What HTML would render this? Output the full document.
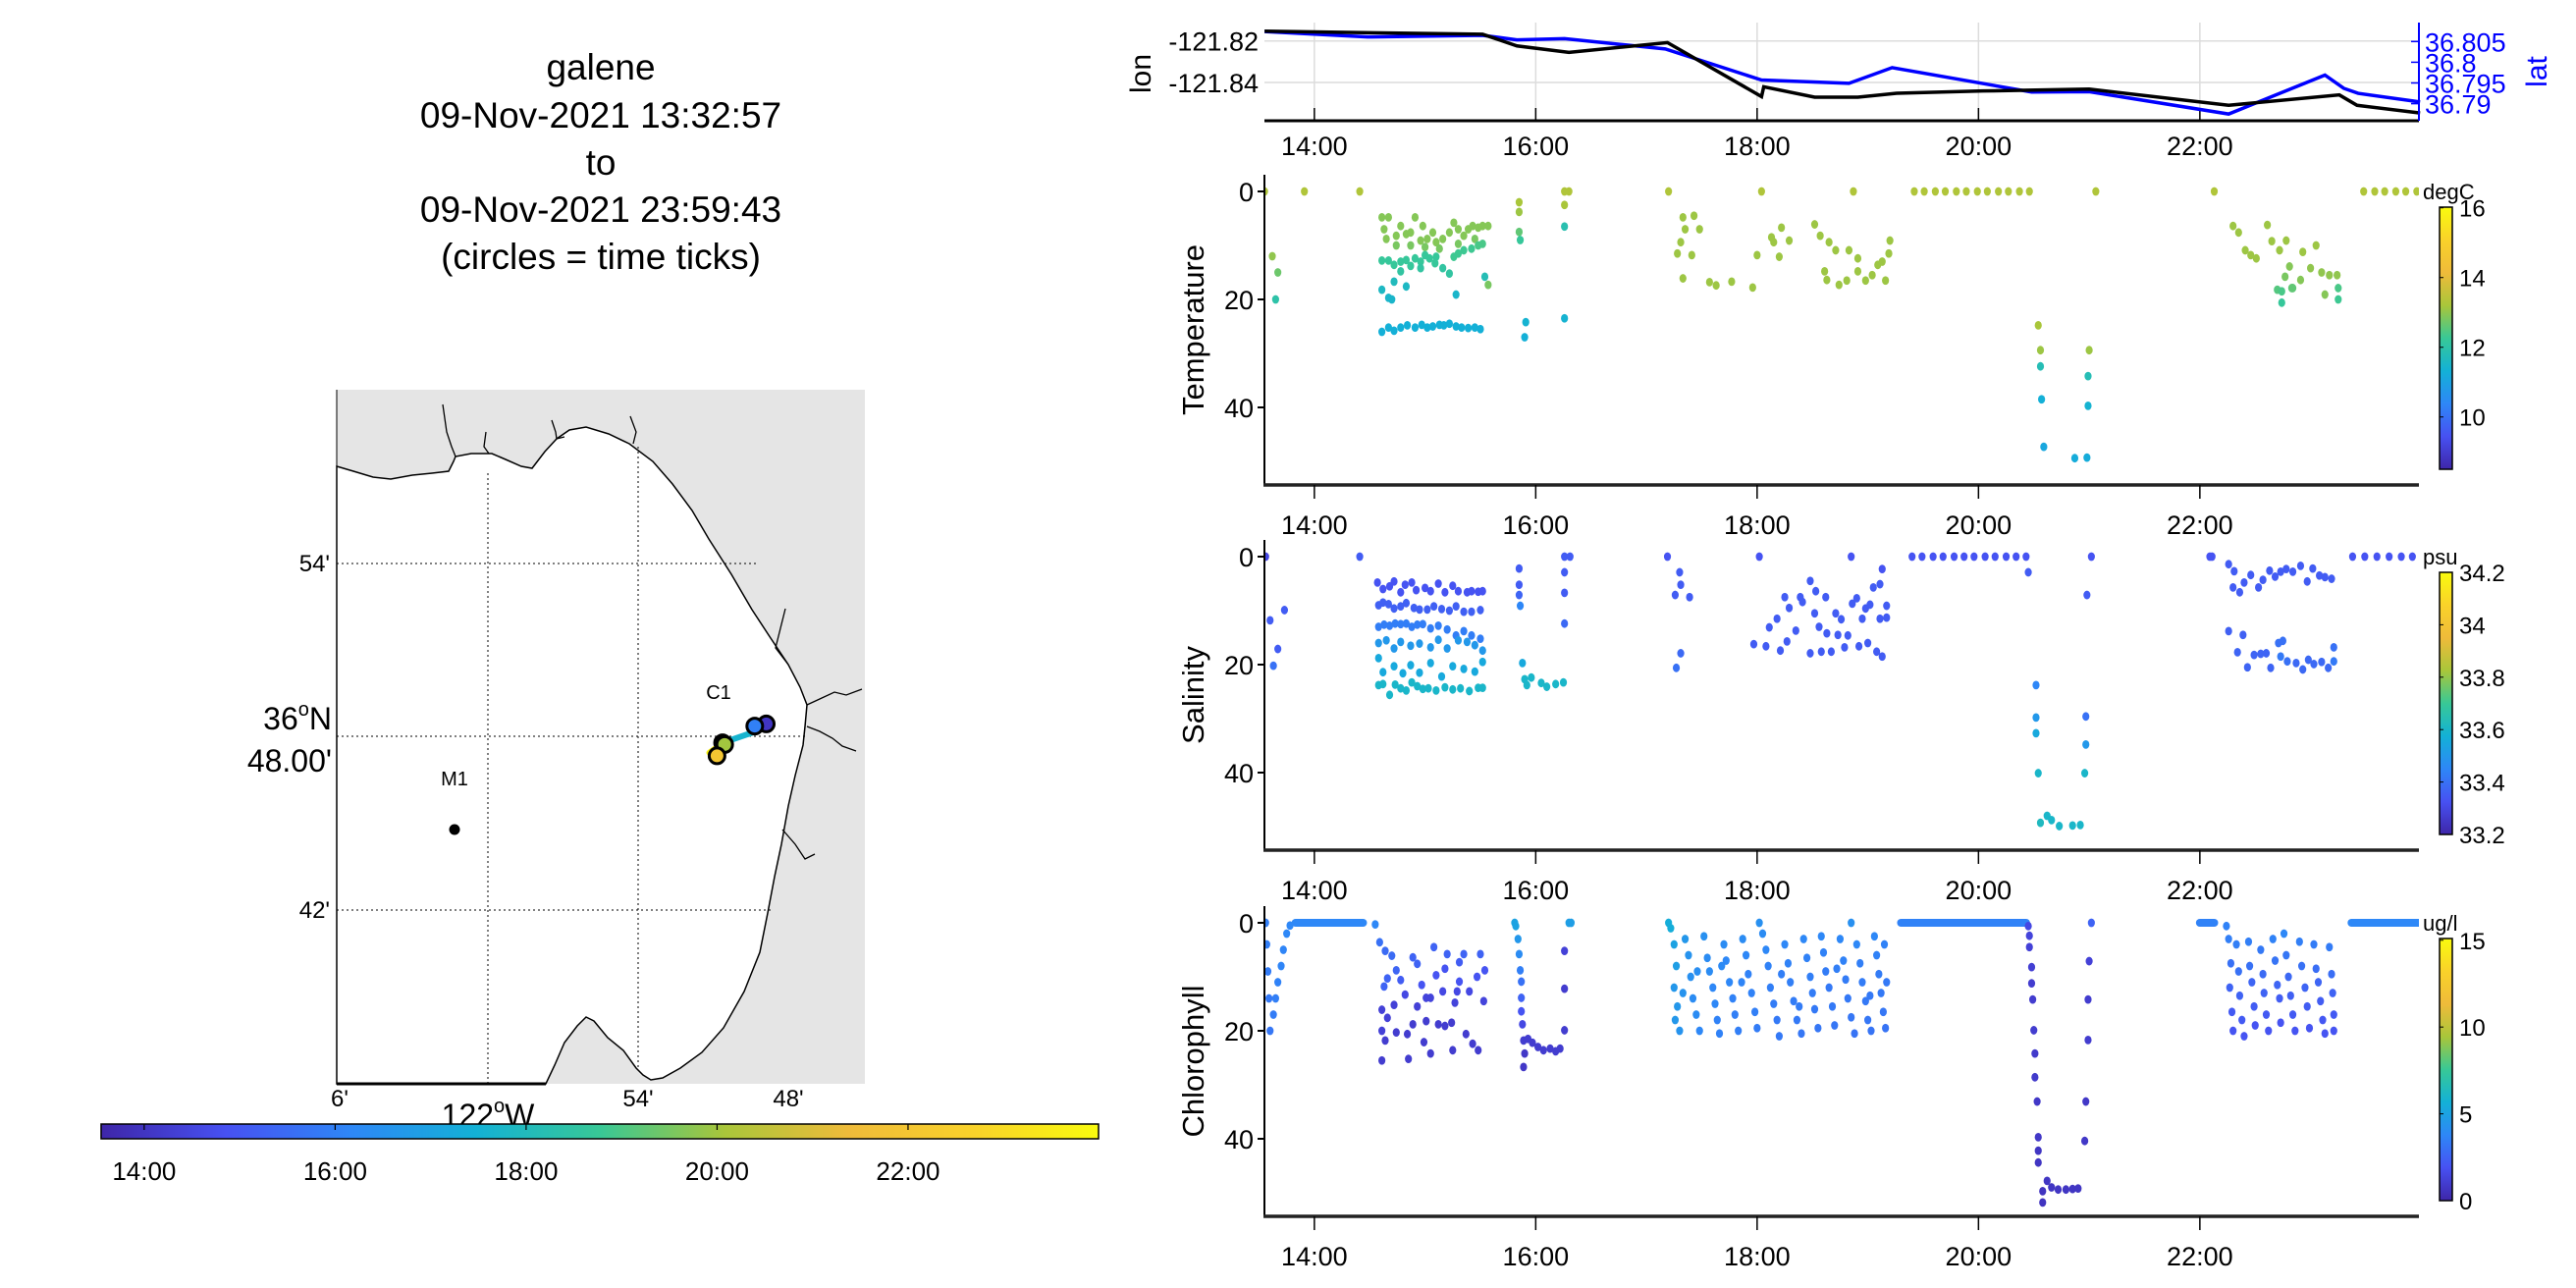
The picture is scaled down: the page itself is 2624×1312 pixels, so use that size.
<!DOCTYPE html>
<html><head><meta charset="utf-8"><style>
html,body{margin:0;padding:0;background:#fff;}
svg{display:block;font-family:"Liberation Sans",sans-serif;}
</style></head><body>
<svg id="fig" width="2624" height="1312" viewBox="0 0 2624 1312" xmlns="http://www.w3.org/2000/svg">
<rect width="2624" height="1312" fill="#fff"/>
<g font-size="37" text-anchor="middle" fill="#000">
<text x="612" y="81">galene</text>
<text x="612" y="130">09-Nov-2021 13:32:57</text>
<text x="612" y="178">to</text>
<text x="612" y="226">09-Nov-2021 23:59:43</text>
<text x="612" y="274">(circles = time ticks)</text>
</g>
<g>
<rect x="343" y="397" width="538" height="707" fill="#e5e5e5"/>
<path fill="#fff" stroke="#000" stroke-width="1.5" d="M343,475 L360,480 L380,486 L398,488 L420,484 L440,482 L457,480 L462,470 L464,465 L480,462 L501,462 L515,468 L531,475 L542,477 L555,460 L567,447 L580,438 L597,435 L620,442 L641,452 L665,470 L685,493 L705,520 L722,549 L745,585 L766,621 L785,650 L803,677 L815,700 L822,718 L820,740 L818,759 L810,790 L803,821 L796,860 L789,893 L782,930 L774,970 L758,1010 L737,1047 L715,1072 L693,1088 L675,1098 L663,1100 L655,1095 L648,1088 L635,1070 L619,1057 L605,1040 L597,1036 L588,1045 L575,1062 L565,1085 L556,1104 L343,1104 Z"/>
<g stroke="#000" stroke-width="1.3" fill="none">
<path d="M451,412 L455,440 L460,455 L464,465"/>
<path d="M495,440 L493,455 L498,462"/>
<path d="M562,428 L566,440 L567,447 L575,445"/>
<path d="M642,424 L648,440 L645,452"/>
<path d="M800,620 L795,640 L790,660 L803,677"/>
<path d="M822,718 L835,712 L850,705 L862,708 L878,702"/>
<path d="M822,740 L835,745 L848,752 L858,760 L872,765"/>
<path d="M797,845 L810,860 L820,875 L830,870"/>
</g>
<g stroke="#000" stroke-width="1" stroke-dasharray="2,3">
<line x1="343" y1="574" x2="770" y2="574"/>
<line x1="343" y1="750" x2="820" y2="750"/>
<line x1="343" y1="927" x2="785" y2="927"/>
<line x1="497" y1="482" x2="497" y2="1104"/>
<line x1="650" y1="455" x2="650" y2="1090"/>
</g>
<line x1="343" y1="1104" x2="556" y2="1104" stroke="#000" stroke-width="3"/>
<line x1="343" y1="397" x2="343" y2="1104" stroke="#000" stroke-width="1"/>
<g font-size="24" fill="#000" text-anchor="end">
<text x="336" y="582">54'</text>
<text x="336" y="935">42'</text>
</g>
<g font-size="32" fill="#000" text-anchor="end">
<text x="338" y="743">36<tspan font-size="20" dy="-14">o</tspan><tspan dy="14">N</tspan></text>
<text x="338" y="786">48.00'</text>
</g>
<g font-size="24" fill="#000" text-anchor="middle">
<text x="346" y="1127">6'</text>
<text x="650" y="1127">54'</text>
<text x="803" y="1127">48'</text>
</g>
<text x="497" y="1147" font-size="32" text-anchor="middle">122<tspan font-size="20" dy="-14">o</tspan><tspan dy="14">W</tspan></text>
<text x="732" y="712" font-size="20" text-anchor="middle">C1</text>
<text x="463" y="800" font-size="20" text-anchor="middle">M1</text>
<circle cx="463" cy="845" r="5.5" fill="#000"/>
<g id="track"></g>
</g>
<g id="hcb"></g>
<g id="toppanel"></g>
<g id="panels"></g>
</svg>
<script>
const NS="http://www.w3.org/2000/svg";
const T0=13.549,T1=23.995;
const timeTicks=[14,16,18,20,22];
const timeTickLabels=["14:00","16:00","18:00","20:00","22:00"];
// lon/lat series
const lonTimes=[13.55,15.52,15.61,15.83,16.30,17.19,18.04,18.06,18.52,18.91,19.26,20.04,21.00,22.26,23.26,23.42,23.99];
const lonValues=[-121.8153,-121.8168,-121.8184,-121.8224,-121.8255,-121.8208,-121.8468,-121.8421,-121.8471,-121.8471,-121.8452,-121.8441,-121.8432,-121.8510,-121.8460,-121.8510,-121.8547];
const latTimes=[13.55,14.48,15.52,15.83,16.26,17.17,18.04,18.83,19.22,20.48,21.00,22.26,23.13,23.30,23.43,23.99];
const latValues=[36.8074,36.8061,36.8065,36.8054,36.8057,36.8032,36.7957,36.7949,36.7987,36.7928,36.7929,36.7875,36.7969,36.7937,36.7925,36.7904];
const lonTicks=[-121.82,-121.84];
const latTicks=[36.805,36.8,36.795,36.79];
const latTickLabels=["36.805","36.8","36.795","36.79"];
// temperature observations [time h, depth m, degC]
const tempObs=[
[13.55,0,13.3],[13.91,0,13.3],[14.41,0,13.3],[16.30,0,13.3],[16.26,0,13.3],[17.20,0,13.3],[18.04,0,13.3],[18.87,0,13.3],
[19.42,0,13.3],[19.51,0,13.3],[19.61,0,13.3],[19.70,0,13.3],[19.80,0,13.3],[19.89,0,13.3],[19.99,0,13.3],[20.08,0,13.3],[20.18,0,13.3],[20.27,0,13.3],[20.37,0,13.3],[20.46,0,13.3],
[21.06,0,13.3],[22.13,0,13.3],[23.48,0,13.3],[23.58,0,13.3],[23.67,0,13.3],[23.77,0,13.3],[23.86,0,13.3],[23.96,0,13.3],
[13.62,12,13.0],[13.67,15,12.7],[13.65,20,12.0],
[14.61,4.8,12.9],[14.67,4.8,12.9],[14.63,7,12.9],[14.65,8.8,12.9],[14.74,8.2,12.9],[14.78,6.4,12.9],[14.83,7.9,12.9],[14.87,7.6,12.9],[14.91,4.8,12.9],[14.96,9.1,12.9],[14.98,6.4,12.9],[15.02,8.8,12.9],[15.07,7.6,12.9],[15.10,9.4,12.9],[15.16,8.8,12.9],[15.22,7.6,12.9],[15.26,5.8,12.9],[15.30,7,12.9],[15.35,8.2,12.9],[15.39,7,12.9],[15.43,6.4,12.9],[15.48,6.7,12.9],[15.52,6.4,12.9],[15.57,6.4,12.9],[14.74,10,12.8],[14.87,10,12.8],[15.00,10.3,12.8],[15.13,10.6,12.8],[15.30,9.7,12.8],[15.45,8.8,12.8],
[14.61,12.8,12.2],[14.67,12.8,12.2],[14.72,13.6,12.2],[14.78,13,12.2],[14.83,12.7,12.2],[14.87,13.8,12.2],[14.91,12.4,12.2],[14.96,13,12.2],[15.00,11.8,12.2],[15.04,12.4,12.2],[15.09,13.3,12.2],[15.16,14.2,12.1],[15.22,15.2,12.1],[15.26,12.1,12.3],[15.30,11.5,12.3],[15.35,10.9,12.3],[15.42,10.6,12.3],[15.48,10,12.4],[15.52,9.7,12.4],[14.78,14.8,12.1],[14.96,14.2,12.1],[15.10,12.1,12.2],
[14.61,18.2,11.6],[14.67,19.7,11.5],[14.70,20,11.5],[14.72,16.7,11.7],[14.83,17.6,11.6],[15.28,19.1,11.5],[15.54,15.8,11.8],[15.57,17.3,12.8],
[14.61,26,11.3],[14.67,25.2,11.3],[14.72,25.8,11.3],[14.78,25.2,11.3],[14.84,24.8,11.3],[14.91,25.2,11.3],[14.97,24.7,11.3],[15.02,25.2,11.3],[15.07,25,11.3],[15.13,24.7,11.3],[15.17,24.8,11.3],[15.22,24.5,11.3],[15.28,25,11.3],[15.33,25.2,11.3],[15.39,25.3,11.3],[15.45,25.2,11.3],[15.50,25.5,11.3],
[15.85,2,13.2],[15.85,3.8,13.1],[15.85,7.5,12.6],[15.86,9,12.2],[15.91,24.2,11.4],[15.90,27,11.3],[16.26,2.5,13.2],[16.26,6.5,11.9],[16.26,23.5,11.4],
[17.33,4.8,13.1],[17.43,4.5,13.1],[17.35,7,13.1],[17.48,7,13.1],[17.31,9.4,13.1],[17.28,11.5,13.1],[17.41,11.8,13.1],[17.33,16.1,13.1],[17.57,16.8,13.1],[17.63,17.4,13.1],[17.77,16.7,13.1],[17.96,17.8,13.1],[18.00,11.8,13.1],[18.13,8.5,13.1],[18.22,6.7,13.1],[18.15,9.4,13.1],[18.29,9.1,13.1],[18.20,12.1,13.1],[18.52,6.1,13.1],[18.57,8.2,13.1],[18.65,9.4,13.1],[18.71,10.9,13.1],[18.83,10.9,13.1],[18.91,12.4,13.1],[18.61,14.8,13.1],[18.63,16.4,13.1],[18.74,17.3,13.1],[18.81,16.5,13.1],[18.98,16.5,13.1],[19.04,15.5,13.1],[19.09,13.6,13.1],[19.13,13,13.1],[19.19,11.5,13.1],[19.20,9.1,13.1],[19.16,16.5,13.1],[18.91,14.8,13.1],
[20.54,24.8,13.2],[20.56,29.4,13.1],[20.56,32.4,11.8],[20.57,38.5,11.3],[20.59,47.3,11.1],[20.87,49.4,11.2],[20.98,49.3,11.2],[21.00,29.4,13.1],[20.99,34.2,11.8],[20.99,39.7,11.4],
[22.30,6.4,13.1],[22.35,7.6,13.1],[22.61,6.2,13.1],[22.41,10.9,13.1],[22.46,11.8,13.1],[22.51,12.4,13.1],[22.65,9.2,13.1],[22.72,10.9,13.1],[22.78,9.1,13.1],[22.81,13.9,12.9],[22.93,11.2,13.1],[23.05,10,13.1],[23.00,14.2,13.0],[23.10,15,13.0],[23.17,15.5,13.0],[23.24,15.5,13.0],[22.91,16.4,12.9],[22.77,15.8,12.8],[22.84,17.9,12.6],[22.70,18.2,12.5],[22.74,18.5,12.4],[22.83,17.9,12.6],[22.74,20.6,12.2],[23.13,19.1,12.9],[23.25,17.9,12.4],[23.25,20,12.3]
];
// salinity observations [time h, depth m, psu]
const salObs=[
[13.56,0,33.3],[14.41,0,33.35],[13.60,11.8,33.35],[13.73,9.9,33.35],[13.67,17.1,33.35],[13.63,20.2,33.4],
[14.57,4.8,33.33],[14.62,6,33.33],[14.68,5.5,33.33],[14.72,4.6,33.33],[14.78,6.6,33.33],[14.82,5.2,33.33],[14.88,4.8,33.33],[14.92,6.2,33.33],[15.00,5.8,33.33],[15.05,6.4,33.33],[15.12,5,33.33],[15.18,6.6,33.33],[15.25,5.4,33.33],[15.30,6.4,33.33],[15.38,6.6,33.33],[15.42,6.4,33.33],[15.48,6.5,33.33],[15.52,6.4,33.33],
[14.58,9,33.36],[14.62,8.5,33.36],[14.67,8.8,33.36],[14.72,9.6,33.36],[14.78,9.2,33.36],[14.83,8.6,33.36],[14.90,9.5,33.36],[14.95,9.8,33.36],[15.02,9.8,33.36],[15.08,9.2,33.36],[15.15,9.7,33.36],[15.22,10,33.36],[15.28,9.2,33.36],[15.35,10.2,33.36],[15.42,10.2,33.36],[15.50,9.9,33.36],
[14.58,13,33.43],[14.63,12.6,33.43],[14.68,12.8,33.43],[14.73,12.4,33.43],[14.78,12.5,33.43],[14.83,12.4,33.43],[14.88,13,33.43],[14.93,12.6,33.43],[14.98,12.5,33.43],[15.05,13.3,33.43],[15.12,12.8,33.43],[15.20,13.5,33.43],[15.28,14.6,33.43],[15.35,13.8,33.43],[15.42,14.6,33.43],[15.50,15.2,33.43],
[14.58,16,33.5],[14.65,15.5,33.5],[14.72,17,33.5],[14.78,15.8,33.5],[14.87,16.5,33.5],[14.95,16.1,33.5],[15.05,16.8,33.5],[15.12,15.4,33.5],[15.20,17,33.5],[15.30,15.5,33.5],[15.38,15.8,33.5],[15.45,16.4,33.5],[15.52,17.4,33.5],
[14.58,18.8,33.55],[14.62,21.4,33.55],[14.72,20.3,33.55],[14.80,21.6,33.55],[14.87,20.1,33.55],[14.95,21.5,33.55],[15.05,19.7,33.55],[15.15,22.2,33.55],[15.25,20.3,33.55],[15.35,20.8,33.55],[15.45,21.3,33.55],[15.52,19.5,33.55],
[14.58,23.8,33.6],[14.62,23.6,33.6],[14.68,25.6,33.6],[14.73,23.7,33.6],[14.78,24.4,33.6],[14.83,24.8,33.6],[14.88,23.3,33.6],[14.93,24,33.6],[14.98,24.5,33.6],[15.03,24.4,33.6],[15.10,24.8,33.6],[15.18,24.2,33.6],[15.25,24.6,33.6],[15.32,24.4,33.6],[15.40,24.9,33.6],[15.48,24.3,33.6],[15.52,24.3,33.6],
[15.85,2.2,33.35],[15.85,5.2,33.35],[15.85,7.1,33.37],[15.86,9.1,33.45],[15.88,19.7,33.55],[15.90,22.7,33.6],[15.92,23.8,33.6],[15.96,22.4,33.6],[16.05,23.4,33.6],[16.10,24.1,33.6],[16.18,23.6,33.6],[16.25,23.3,33.6],
[16.26,0,33.35],[16.26,2.9,33.35],[16.26,6.7,33.35],[16.26,12.4,33.38],[16.31,0,33.35],
[17.19,0,33.33],[17.30,2.9,33.35],[17.31,5.2,33.35],[17.26,7.1,33.35],[17.39,7.5,33.35],[17.31,17.9,33.38],[17.27,20.6,33.4],
[18.02,0,33.33],[18.85,0,33.33],[19.13,2.3,33.33],
[17.97,16.2,33.35],[18.08,16.6,33.35],[18.11,13.1,33.35],[18.18,11.5,33.35],[18.21,17.4,33.35],[18.25,7.5,33.35],[18.27,15.7,33.35],[18.29,9.5,33.35],[18.35,13.7,33.35],[18.39,7.5,33.35],[18.41,8.4,33.35],[18.48,4.5,33.35],[18.48,17.9,33.35],[18.52,10.5,33.35],[18.53,6.4,33.35],[18.56,13,33.35],[18.58,17.6,33.35],[18.62,7.5,33.35],[18.63,14.2,33.35],[18.67,17.6,33.35],[18.71,10.5,33.35],[18.73,14.5,33.35],[18.76,11.6,33.35],[18.79,16.8,33.35],[18.82,14.6,33.35],[18.86,8.7,33.35],[18.90,7.7,33.35],[18.92,16.6,33.35],[18.95,11.5,33.35],[18.98,9.6,33.35],[19.00,16,33.35],[19.02,8.9,33.35],[19.05,5.7,33.35],[19.08,17.6,33.35],[19.11,5.1,33.35],[19.11,11.5,33.35],[19.13,18.5,33.35],[19.17,9.1,33.35],[19.17,11.3,33.35],
[19.40,0,33.33],[19.49,0,33.33],[19.59,0,33.33],[19.68,0,33.33],[19.78,0,33.33],[19.87,0,33.33],[19.96,0,33.33],[20.06,0,33.33],[20.15,0,33.33],[20.25,0,33.33],[20.34,0,33.33],[20.43,0,33.33],
[20.45,2.9,33.35],[20.52,23.8,33.45],[20.52,29.8,33.5],[20.52,32.7,33.55],[20.54,40.1,33.6],[20.56,49.3,33.62],[20.62,48,33.6],[20.66,48.8,33.6],[20.73,49.9,33.6],[20.85,49.8,33.6],[20.92,49.7,33.6],
[21.02,0,33.33],[20.98,7.1,33.35],[20.97,29.6,33.4],[20.97,34.8,33.5],[20.96,40.1,33.6],
[22.09,0,33.33],[22.11,0,33.33],
[22.26,1.4,33.35],[22.31,2.7,33.35],[22.30,5.7,33.35],[22.36,6.6,33.35],[22.40,4.8,33.35],[22.46,3.4,33.35],[22.53,5.7,33.35],[22.57,4.3,33.35],[22.63,2.6,33.35],[22.68,3.7,33.35],[22.73,2.8,33.35],[22.78,2.3,33.35],[22.84,2.8,33.35],[22.91,1.7,33.35],[22.97,4.6,33.35],[23.02,2.2,33.35],[23.08,3.5,33.35],[23.13,3.8,33.35],[23.19,4.1,33.35],
[22.26,13.8,33.36],[22.39,14.5,33.36],[22.34,17.7,33.37],[22.43,20.5,33.37],[22.49,18.2,33.37],[22.55,18,33.37],[22.60,17.9,33.37],[22.64,20.6,33.37],[22.71,16,33.4],[22.75,15.6,33.4],[22.73,18.5,33.42],[22.79,19.4,33.4],[22.87,19.7,33.38],[22.93,20.9,33.38],[22.98,19.1,33.38],[23.03,19.9,33.38],[23.10,19.5,33.38],[23.16,20.6,33.38],[23.21,16.8,33.4],[23.21,19.4,33.42],
[23.38,0,33.33],[23.49,0,33.33],[23.60,0,33.33],[23.71,0,33.33],[23.82,0,33.33],[23.92,0,33.33]
];
// chlorophyll continuous surface runs [start h, end h, ug/l]
const chlSurfaceRuns=[[13.83,14.44,3.8],[19.30,20.43,3.6],[22.00,22.13,3.6],[23.37,23.98,3.8]];
// chlorophyll observations [time h, depth m, ug/l]
const chlObs=[
[13.56,0,3.5],[13.57,4,3.5],[13.58,9,3.4],[13.59,14,3.3],[13.60,20,3.2],[13.63,17,3.4],[13.65,14,3.5],[13.67,11,3.6],[13.70,8,3.7],[13.72,5,3.7],[13.75,2,3.8],[13.78,0.5,3.8],
[14.55,0.3,3.8],[14.59,3.6,3.0],[14.64,5.2,2.8],[14.66,10.3,2.5],[14.63,11.8,2.5],[14.61,16.1,1.2],[14.66,17.6,1.2],[14.61,20,1.2],[14.64,21.8,1],[14.61,25.5,1],[14.70,6.1,2.8],[14.74,8.8,2.6],[14.78,10.6,2.3],[14.82,13.3,1.5],[14.72,15.2,1.2],[14.84,20.6,1],[14.85,25.2,1],[14.89,6.4,2.5],[14.93,7.6,2.5],[14.97,11.5,2],[14.93,15.5,1.2],[14.99,22.1,1],[15.05,24.2,1],[15.08,4.5,2.5],[15.10,9.7,2],[15.05,13.9,1.3],[15.12,18.8,1],[15.16,12.7,1.5],[15.18,8.5,2],[15.20,5.8,2.5],[15.24,18.5,1],[15.25,23.6,1],[15.27,14.8,1.3],[15.31,7.3,2.3],[15.31,10.9,2],[15.35,5.8,2.5],[15.37,20.6,1],[15.40,12.7,1.5],[15.43,22.4,1],[15.47,10,2],[15.48,23.6,1],[15.50,5.8,2.5],[15.53,14.5,1.3],[15.54,8.8,2],[15.01,18.2,1],[15.18,19.1,1],[14.89,18.8,1],[14.74,20.3,1],[15.29,12.7,1.5],[15.01,13.9,1.3],
[15.81,0,5.0],[15.82,0.6,5.0],[15.84,3,4.5],[15.85,5.8,4.0],[15.86,8.8,3.5],[15.87,10.9,3.0],[15.87,13.9,2.5],[15.87,16.4,2],[15.88,18.8,1.5],[15.89,21.8,1],[15.90,24.2,0.8],[15.89,26.7,0.8],
[15.93,21.5,1],[15.97,22.2,1],[16.02,23,1],[16.07,23.6,1],[16.13,23.3,1],[16.18,23.8,1],[16.22,23.3,1],
[16.26,5.2,1.2],[16.26,12.2,1],[16.26,19.9,1],[16.30,0,4.8],[16.32,0,4.8],
[17.20,0,5.5],[18.02,0,4.2],[18.85,0,4.2],
[17.22,1,5.5],[17.25,4,5],[17.27,8,4.8],[17.25,12,4.5],[17.28,15.5,4.5],[17.26,18,4.5],[17.30,20,4.3],
[17.35,3,4.5],[17.38,6,4.3],[17.40,10,4.2],[17.42,14,4],[17.45,17,4],[17.48,20,3.8],
[17.52,2.5,4.2],[17.55,6.5,4],[17.57,9,4],[17.60,12,3.8],[17.62,15,3.8],[17.64,18,3.6],[17.66,20.5,3.6],
[17.70,4,4],[17.72,7,3.8],[17.75,11,3.8],[17.78,14,3.6],[17.80,17,3.5],[17.83,20,3.5],
[17.87,3,4],[17.90,6,3.8],[17.92,9.5,3.6],[17.95,13,3.6],[17.98,16.5,3.5],[18.00,19.5,3.4],
[18.05,2,4],[18.08,5,3.8],[18.10,8,3.6],[18.12,12,3.5],[18.15,15,3.4],[18.18,18,3.3],[18.20,21,3.3],
[18.25,4,3.8],[18.28,7.5,3.6],[18.30,11,3.5],[18.33,14.5,3.4],[18.36,18,3.3],[18.40,20.5,3.2],
[18.42,3,3.8],[18.45,6.5,3.6],[18.48,10,3.5],[18.50,13,3.4],[18.52,16,3.3],[18.55,19.5,3.2],
[18.58,2.5,3.8],[18.60,5.5,3.6],[18.62,9,3.4],[18.65,12,3.3],[18.68,15.5,3.3],[18.70,19,3.2],
[18.75,3,3.8],[18.78,7,3.6],[18.80,10.5,3.4],[18.82,14,3.3],[18.85,17.5,3.2],[18.88,20.5,3.1],
[18.90,4,3.8],[18.93,7.5,3.5],[18.95,11,3.4],[18.98,14.5,3.3],[19.00,18,3.2],[19.03,20,3.1],
[19.06,2.5,3.8],[19.08,6,3.6],[19.10,9.5,3.4],[19.12,13,3.3],[19.14,16.5,3.2],[19.16,19.5,3.1],[19.17,11,3.3],[19.15,4,3.6],
[17.33,13,4.3],[17.68,8,3.9],[18.22,9.5,3.5],[18.72,8.5,3.5],[17.46,9,4.1],[17.86,11,3.7],[18.38,15.5,3.4],[19.02,13.5,3.3],
[20.45,0.6,1.5],[20.46,2.4,1.3],[20.46,4.5,1.2],[20.48,8.2,1.1],[20.48,11.2,1],[20.49,14.2,1],[20.50,19.9,1],[20.51,24.2,0.9],[20.51,28.6,0.9],[20.53,33.1,0.8],[20.54,39.7,0.8],[20.54,42.2,0.7],[20.54,44.4,0.7],[20.58,49.7,0.6],[20.58,51.8,0.6],[20.62,47.8,0.7],[20.66,49,0.7],[20.72,49.4,0.7],[20.79,49.4,0.7],[20.85,49.3,0.7],[20.90,49.2,0.7],
[21.02,0,2.5],[21.00,7.1,1.2],[20.99,14.2,1],[20.99,21.7,1],[20.97,33.1,0.8],[20.96,40.4,0.8],
[22.24,0.6,3.6],
[22.26,3,3.5],[22.28,7.5,3],[22.27,12,2.5],[22.29,16.5,2.2],[22.30,20,2],[22.33,4,3.5],[22.35,9,3],[22.36,13.5,2.5],[22.38,18,2.2],[22.40,21,2],[22.44,3.5,3.5],[22.45,8,3],[22.47,11,2.6],[22.49,15.5,2.3],[22.50,19,2],[22.55,5,3.3],[22.57,9.5,2.8],[22.58,13,2.5],[22.60,17,2.2],[22.62,20,2],[22.66,3,3.6],[22.68,7,3.1],[22.70,11.5,2.6],[22.72,14,2.3],[22.73,18.5,2],[22.76,2,3.8],[22.78,6,3.2],[22.80,10,2.7],[22.82,13.5,2.4],[22.84,17,2.2],[22.86,20,2],[22.90,3.5,3.5],[22.92,8,3],[22.95,12,2.6],[22.97,15.5,2.3],[22.99,19.5,2],[23.03,4,3.4],[23.05,8.5,2.9],[23.07,11,2.6],[23.09,14.5,2.3],[23.11,18,2.1],[23.13,20.5,2],[23.17,4.5,3.4],[23.19,9.5,2.9],[23.20,13,2.5],[23.21,17,2.2],[23.21,20,2]
];
// time-tick circles on track
const trackCircleTimes=[14,16,18,20,22];

const stops=[[0,[62,38,168]],[0.125,[71,81,242]],[0.25,[46,135,247]],[0.375,[19,177,214]],[0.5,[56,200,150]],[0.625,[169,198,58]],[0.75,[239,187,58]],[0.875,[249,210,42]],[1,[249,251,14]]];
function parula(f){f=Math.max(0,Math.min(1,f));for(let i=1;i<stops.length;i++){if(f<=stops[i][0]){const a=stops[i-1],b=stops[i],u=(f-a[0])/(b[0]-a[0]);return "rgb("+a[1].map((c,k)=>Math.round(c+(b[1][k]-c)*u)).join(",")+")";}}return "rgb(249,251,14)";}
function el(tag,attrs,parent,text){const e=document.createElementNS(NS,tag);for(const k in attrs)e.setAttribute(k,attrs[k]);if(text!==undefined)e.textContent=text;parent.appendChild(e);return e;}
const xT=t=>1288+(t-T0)*112.75;

// ---------- top lon/lat panel ----------
const topG=document.getElementById('toppanel');
const yLon=v=>41.7-(v+121.82)/0.02*42.3;
const yLat=v=>42.3-(v-36.805)/0.005*21.1;
timeTicks.forEach((t,i)=>{
 const g=el('line',{x1:xT(t),x2:xT(t),y1:23,y2:123,stroke:'#dcdcdc','stroke-width':1.5},topG);
 
 
 const tk=el('line',{x1:xT(t),x2:xT(t),y1:110,y2:123,stroke:'#000','stroke-width':1.5},topG);
 
 
 const lb=el('text',{x:xT(t),y:158,'font-size':27,'text-anchor':'middle'},topG,timeTickLabels[i]);
 
 
});
lonTicks.forEach(v=>{
 const g=el('line',{x1:1288,x2:2464,y1:yLon(v),y2:yLon(v),stroke:'#dcdcdc','stroke-width':1.5},topG);
 
 
 const lb=el('text',{x:1282,y:yLon(v)+10,'font-size':27,'text-anchor':'end'},topG,v.toFixed(2));
 
 
});
latTicks.forEach((v,i)=>{
 const tk=el('line',{x1:2456,x2:2464,y1:yLat(v),y2:yLat(v),stroke:'#0000ff','stroke-width':1.5},topG);
 
 
 const lb=el('text',{x:2470,y:yLat(v)+10,'font-size':27,fill:'#0000ff'},topG,latTickLabels[i]);
 
 
});
const latPath=el('polyline',{points:latTimes.map((t,i)=>xT(t)+','+yLat(latValues[i])).join(' '),fill:'none',stroke:'#0000ff','stroke-width':3.5},topG);


const lonPath=el('polyline',{points:lonTimes.map((t,i)=>xT(t)+','+yLon(lonValues[i])).join(' '),fill:'none',stroke:'#000','stroke-width':3.5},topG);


const tb=el('line',{x1:1288,x2:2464,y1:123,y2:123,stroke:'#000','stroke-width':3},topG);


const ra=el('line',{x1:2464,x2:2464,y1:23,y2:123,stroke:'#0000ff','stroke-width':2},topG);


const lonL=el('text',{x:1172,y:75,'font-size':30,'text-anchor':'middle',transform:'rotate(-90 1172 75)'},topG,'lon');


const latL=el('text',{x:2594,y:73,'font-size':30,fill:'#0000ff','text-anchor':'middle',transform:'rotate(-90 2594 73)'},topG,'lat');



// ---------- depth panels ----------
const panels=document.getElementById('panels');
function depthPanel(off,name,title,unit,obs,vmin,vmax,cbTicks,cbLabels,runs){
 const g=el('g',{},panels);
 
 
 const y0=195+off, yB=494+off;
 const yD=d=>y0+d*5.5;
 const cf=v=>(v-vmin)/(vmax-vmin);
 const clipId='clip'+name;
 const cp=el('clipPath',{id:clipId},g);
 el('rect',{x:1288,y:178+off,width:1176,height:yB-178-off},cp);
 const dots=el('g',{'clip-path':'url(#'+clipId+')'},g);
 
 
 if(runs){runs.forEach(r=>{
  const l=el('line',{x1:xT(r[0]),x2:xT(r[1]),y1:yD(0),y2:yD(0),stroke:parula(cf(r[2])),'stroke-width':8,'stroke-linecap':'round'},dots);
  
  
 });}
 obs.forEach(o=>{
  const c=el('ellipse',{cx:xT(o[0]),cy:yD(o[1]),rx:3.6,ry:4.4,fill:parula(cf(o[2]))},dots);
  
  
 });
 const la=el('line',{x1:1288,x2:1288,y1:178+off,y2:yB,stroke:'#000','stroke-width':2},g);
 
 
 const ba=el('line',{x1:1287,x2:2464,y1:yB,y2:yB,stroke:'#222','stroke-width':3.5},g);
 
 
 [0,20,40].forEach(d=>{
  const t=el('line',{x1:1281,x2:1288,y1:yD(d),y2:yD(d),stroke:'#000','stroke-width':2},g);
  
  
  const lb=el('text',{x:1277,y:yD(d)+10,'font-size':27,'text-anchor':'end'},g,String(d));
  
  
 });
 timeTicks.forEach((t,i)=>{
  const tk=el('line',{x1:xT(t),x2:xT(t),y1:yB,y2:yB+14,stroke:'#000','stroke-width':1.5},g);
  
  
  const lb=el('text',{x:xT(t),y:yB+50,'font-size':27,'text-anchor':'middle'},g,timeTickLabels[i]);
  
  
 });
 const yc=(yB+178+off)/2;
 const tl=el('text',{x:1226,y:yc,'font-size':31,'text-anchor':'middle',transform:'rotate(-90 1226 '+yc+')'},g,title);
 
 
 const cbTop=211+off, cbBot=478+off;
 const grad=el('linearGradient',{id:'grad'+name,x1:0,y1:1,x2:0,y2:0},g);
 for(let i=0;i<=8;i++){el('stop',{offset:i/8,'stop-color':parula(i/8)},grad);}
 const cb=el('rect',{x:2485,y:cbTop,width:13,height:cbBot-cbTop,fill:'url(#grad'+name+')',stroke:'#000','stroke-width':1.5},g);
 
 
 cbTicks.forEach((v,i)=>{
  const y=cbBot-cf(v)*(cbBot-cbTop);
  const tk=el('line',{x1:2485,x2:2489,y1:y,y2:y,stroke:'#000','stroke-width':1},g);
  
  
  const lb=el('text',{x:2505,y:y+9,'font-size':24},g,cbLabels[i]);
  
  
 });
 const ul=el('text',{x:2468,y:y0+8,'font-size':22},g,unit);
 
 
}
const tempCbTicks=[10,12,14,16], tempCbLabels=["10","12","14","16"];
const salCbTicks=[33.2,33.4,33.6,33.8,34,34.2], salCbLabels=["33.2","33.4","33.6","33.8","34","34.2"];
const chlCbTicks=[0,5,10,15], chlCbLabels=["0","5","10","15"];
depthPanel(0,'temperature','Temperature','degC',tempObs,8.5,16.02,tempCbTicks,tempCbLabels,null);
depthPanel(372,'salinity','Salinity','psu',salObs,33.2,34.2,salCbTicks,salCbLabels,null);
depthPanel(745,'chlorophyll','Chlorophyll','ug/l',chlObs,0,15.1,chlCbTicks,chlCbLabels,chlSurfaceRuns);

// ---------- horizontal time colorbar ----------
const hcb=document.getElementById('hcb');
const hx=t=>103+(t-T0)/(T1-T0)*1016;
const hg=el('linearGradient',{id:'hgrad',x1:0,y1:0,x2:1,y2:0},hcb);
for(let i=0;i<=8;i++){el('stop',{offset:i/8,'stop-color':parula(i/8)},hg);}
const hr=el('rect',{x:103,y:1145,width:1016,height:15,fill:'url(#hgrad)',stroke:'#000','stroke-width':1.5},hcb);


timeTicks.forEach((t,i)=>{
 const tk=el('line',{x1:hx(t),x2:hx(t),y1:1145,y2:1151,stroke:'#000','stroke-width':1.2},hcb);
 
 
 const lb=el('text',{x:hx(t),y:1202,'font-size':26,'text-anchor':'middle'},hcb,timeTickLabels[i]);
 
 
});

// ---------- ship track on map (from lon/lat series) ----------
function interp(ts,vs,t){if(t<=ts[0])return vs[0];for(let i=1;i<ts.length;i++){if(t<=ts[i]){const u=(t-ts[i-1])/(ts[i]-ts[i-1]);return vs[i-1]+(vs[i]-vs[i-1])*u;}}return vs[vs.length-1];}
const mapX=lon=>780+(lon+121.816)*1486;
const mapY=lat=>737-(lat-36.807)*1790;
const track=document.getElementById('track');
const trackTs=Array.from(new Set(lonTimes.concat(latTimes))).sort((a,b)=>a-b);
const tp=t=>[mapX(interp(lonTimes,lonValues,t)),mapY(interp(latTimes,latValues,t))];
for(let i=1;i<trackTs.length;i++){
 const a=tp(trackTs[i-1]),b=tp(trackTs[i]);
 const s=el('line',{x1:a[0],y1:a[1],x2:b[0],y2:b[1],stroke:parula(((trackTs[i]+trackTs[i-1])/2-T0)/(T1-T0)),'stroke-width':6,'stroke-linecap':'round'},track);
 
 
}
trackCircleTimes.forEach(t=>{
 const p=tp(t);
 const c=el('circle',{cx:p[0],cy:p[1],r:8,fill:parula((t-T0)/(T1-T0)),stroke:'#000','stroke-width':3},track);
 
 
});
</script>
</body></html>
